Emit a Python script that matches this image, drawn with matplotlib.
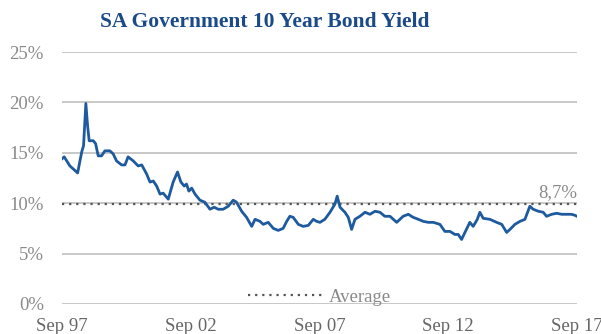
import matplotlib.pyplot as plt

# SA 10 year government bond yield, Sep 1997 - Sep 2017
# x: years since Sep 97, y: yield in %
years = [0.00, 0.09, 0.31, 0.57, 0.61, 0.77, 0.84, 0.93, 1.00, 1.06,
         1.22, 1.31, 1.41, 1.54, 1.67, 1.86, 1.99, 2.12, 2.32, 2.45,
         2.57, 2.77, 2.96, 3.10, 3.29, 3.42, 3.55, 3.68, 3.81, 3.93,
         4.13, 4.32, 4.49, 4.62, 4.75, 4.84, 4.93, 5.04, 5.17, 5.36,
         5.55, 5.75, 5.91, 6.07, 6.26, 6.46, 6.65, 6.78, 6.98, 7.17,
         7.37, 7.50, 7.69, 7.82, 8.01, 8.21, 8.40, 8.59, 8.73, 8.85,
         8.98, 9.18, 9.37, 9.57, 9.76, 9.89, 10.02, 10.21, 10.41, 10.60,
         10.69, 10.80, 10.99, 11.12, 11.25, 11.38, 11.57, 11.77, 11.96, 12.16,
         12.35, 12.54, 12.74, 13.00, 13.25, 13.45, 13.64, 13.84, 14.03, 14.23,
         14.42, 14.68, 14.87, 15.07, 15.26, 15.39, 15.52, 15.65, 15.84, 15.97,
         16.13, 16.23, 16.36, 16.62, 16.88, 17.08, 17.27, 17.40, 17.59, 17.79,
         17.98, 18.17, 18.30, 18.50, 18.69, 18.82, 19.02, 19.21, 19.41, 19.60,
         19.79, 19.92, 20.00]
yields = [14.4, 14.6, 13.7, 13.1, 13.0, 15.1, 15.7, 19.9, 17.6, 16.2,
          16.2, 15.9, 14.7, 14.7, 15.2, 15.2, 14.9, 14.2, 13.8, 13.8,
          14.6, 14.2, 13.7, 13.8, 12.9, 12.1, 12.2, 11.7, 10.9, 11.0,
          10.4, 12.1, 13.1, 12.1, 11.7, 11.9, 11.2, 11.5, 10.9, 10.3,
          10.1, 9.4, 9.6, 9.4, 9.4, 9.7, 10.3, 10.1, 9.2, 8.6,
          7.7, 8.4, 8.2, 7.9, 8.1, 7.5, 7.3, 7.5, 8.2, 8.7,
          8.6, 7.9, 7.7, 7.8, 8.4, 8.2, 8.1, 8.4, 9.1, 9.9,
          10.7, 9.6, 9.1, 8.6, 7.4, 8.4, 8.7, 9.1, 8.9, 9.2,
          9.1, 8.7, 8.7, 8.1, 8.7, 8.9, 8.6, 8.4, 8.2, 8.1,
          8.1, 7.9, 7.2, 7.2, 6.9, 6.9, 6.4, 7.1, 8.1, 7.7,
          8.4, 9.1, 8.5, 8.4, 8.1, 7.9, 7.1, 7.4, 7.9, 8.2,
          8.4, 9.7, 9.4, 9.2, 9.1, 8.7, 8.9, 9.0, 8.9, 8.9,
          8.9, 8.8, 8.7]
average = 9.9
last_label = "8,7%"

tick_pos = [0, 5, 10, 15, 20]
tick_labels = ["Sep 97", "Sep 02", "Sep 07", "Sep 12", "Sep 17"]
y_ticks = [0, 5, 10, 15, 20, 25]

plt.rcParams['font.family'] = ['Liberation Serif', 'DejaVu Serif']

fig = plt.figure(figsize=(6.01, 3.34), dpi=100)
ax = fig.add_axes([0.103, 0.090, 0.857, 0.754])

ax.plot(years, yields, color='#1d5a9e', lw=2.0, zorder=3)
ax.axhline(average, color='#555555', lw=1.6, ls=(0, (1, 2.2)), zorder=2,
           label='Average')

ax.set_xlim(0, 20)
ax.set_ylim(0, 25)
ax.set_yticks(y_ticks)
ax.set_yticklabels([f"{v}%" for v in y_ticks])
ax.set_xticks(tick_pos)
ax.set_xticklabels(tick_labels)
ax.grid(axis='y', color='#c4c4c4', lw=1.3)
ax.set_axisbelow(True)
for s in ax.spines.values():
    s.set_visible(False)
ax.tick_params(axis='y', length=0, pad=13, labelsize=13.5, labelcolor='#8a8a8a')
ax.tick_params(axis='x', length=0, pad=10, labelsize=13.5, labelcolor='#666666')

ax.text(years[-1], yields[-1] + 1.5, last_label, ha='right', va='bottom',
        fontsize=13.5, color='#8a8a8a')

ax.legend(loc='lower center', bbox_to_anchor=(0.5, -0.075), frameon=False,
          handlelength=4.0, handletextpad=0.3, fontsize=13.5, labelcolor='#8a8a8a')

fig.suptitle("SA Government 10 Year Bond Yield", x=0.44, y=0.965,
             fontsize=15.5, fontweight='bold', color='#1a4a88')

fig.savefig("out.png", dpi=100)
